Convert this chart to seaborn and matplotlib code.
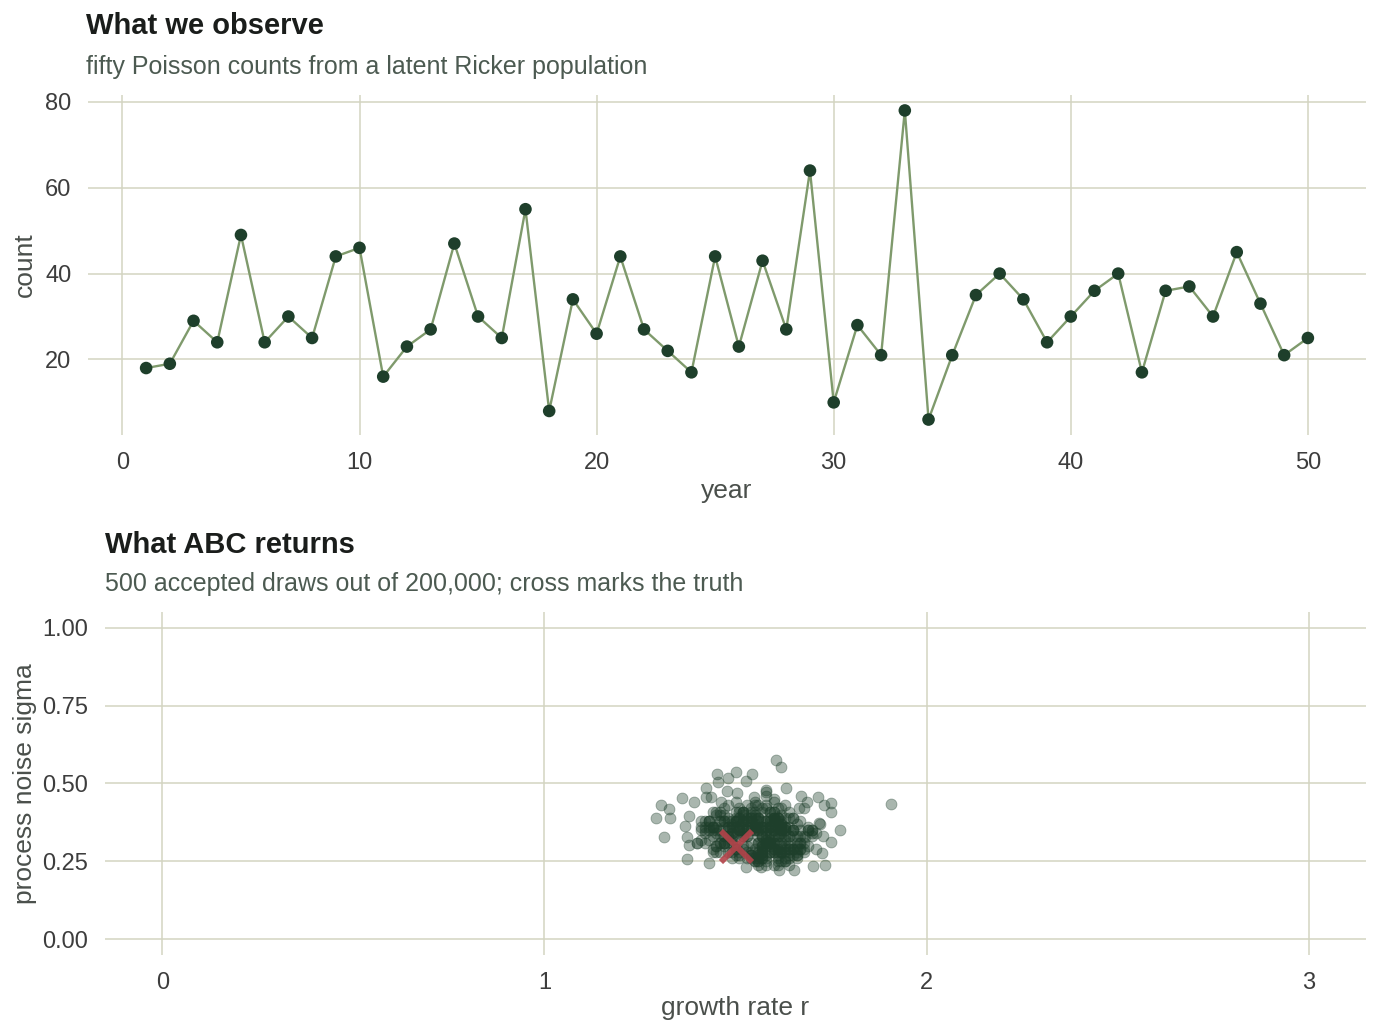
import matplotlib
matplotlib.use("Agg")
import matplotlib.pyplot as plt
import seaborn as sns
import pandas as pd

# observed counts, years 1..50
years = list(range(1, 51))
counts = [18, 19, 29, 24, 49, 24, 30, 25, 44, 46,
          16, 23, 27, 47, 30, 25, 55, 8, 34, 26,
          44, 27, 22, 17, 44, 23, 43, 27, 64, 10,
          28, 21, 78, 6, 21, 35, 40, 34, 24, 30,
          36, 40, 17, 36, 37, 30, 45, 33, 21, 25]

# accepted ABC draws
r_draws = [
    1.52, 1.61, 1.47, 1.58, 1.66, 1.43, 1.55, 1.63, 1.49, 1.57,
    1.60, 1.45, 1.53, 1.68, 1.51, 1.59, 1.41, 1.64, 1.56, 1.48,
    1.54, 1.62, 1.50, 1.70, 1.46, 1.58, 1.65, 1.53, 1.44, 1.60,
    1.57, 1.49, 1.63, 1.55, 1.42, 1.67, 1.52, 1.59, 1.61, 1.46,
    1.50, 1.64, 1.56, 1.40, 1.58, 1.62, 1.47, 1.69, 1.54, 1.51,
    1.63, 1.55, 1.44, 1.60, 1.57, 1.49, 1.66, 1.52, 1.59, 1.72,
    1.45, 1.58, 1.61, 1.53, 1.48, 1.65, 1.56, 1.43, 1.62, 1.50,
    1.59, 1.67, 1.52, 1.46, 1.60, 1.54, 1.71, 1.57, 1.49, 1.63,
    1.55, 1.42, 1.64, 1.58, 1.51, 1.61, 1.47, 1.56, 1.68, 1.53,
    1.62, 1.50, 1.57, 1.45, 1.66, 1.59, 1.54, 1.41, 1.60, 1.48,
    1.56, 1.63, 1.49, 1.61, 1.55, 1.44, 1.69, 1.52, 1.58, 1.65,
    1.47, 1.60, 1.53, 1.67, 1.57, 1.50, 1.62, 1.46, 1.59, 1.55,
    1.64, 1.51, 1.58, 1.43, 1.61, 1.56, 1.48, 1.70, 1.54, 1.60,
    1.52, 1.66, 1.45, 1.59, 1.62, 1.49, 1.57, 1.63, 1.40, 1.55,
    1.58, 1.47, 1.61, 1.54, 1.68, 1.51, 1.60, 1.44, 1.65, 1.57,
    1.50, 1.62, 1.56, 1.48, 1.59, 1.73, 1.53, 1.61, 1.46, 1.64,
    1.57, 1.44, 1.60, 1.66, 1.52, 1.58, 1.49, 1.63, 1.55, 1.42,
    1.61, 1.54, 1.47, 1.59, 1.64, 1.50, 1.67, 1.56, 1.62, 1.45,
    1.53, 1.60, 1.58, 1.41, 1.55, 1.63, 1.51, 1.57, 1.69, 1.48,
    1.65, 1.49, 1.56, 1.62, 1.46, 1.59, 1.54, 1.60, 1.52, 1.66,
    1.43, 1.58, 1.63, 1.50, 1.57, 1.61, 1.47, 1.55, 1.64, 1.59,
    1.54, 1.67, 1.48, 1.60, 1.52, 1.45, 1.62, 1.58, 1.56, 1.70,
    1.60, 1.51, 1.65, 1.57, 1.44, 1.59, 1.53, 1.62, 1.49, 1.56,
    1.47, 1.61, 1.55, 1.68, 1.58, 1.52, 1.64, 1.42, 1.57, 1.63,
    1.59, 1.50, 1.56, 1.46, 1.62, 1.66, 1.54, 1.60, 1.51, 1.58,
    1.64, 1.48, 1.61, 1.55, 1.57, 1.43, 1.63, 1.52, 1.71, 1.59,
    1.56, 1.62, 1.45, 1.58, 1.50, 1.65, 1.57, 1.61, 1.53, 1.47,
    1.60, 1.55, 1.67, 1.49, 1.63, 1.54, 1.59, 1.44, 1.62, 1.57,
    1.52, 1.64, 1.58, 1.61, 1.46, 1.56, 1.69, 1.51, 1.60, 1.55,
    1.63, 1.48, 1.57, 1.53, 1.66, 1.59, 1.42, 1.62, 1.56, 1.50,
    1.58, 1.61, 1.54, 1.45, 1.60, 1.64, 1.52, 1.57, 1.67, 1.49,
    1.55, 1.62, 1.47, 1.59, 1.53, 1.60, 1.65, 1.43, 1.58, 1.56,
    1.61, 1.51, 1.64, 1.57, 1.48, 1.62, 1.55, 1.68, 1.52, 1.59,
    1.46, 1.58, 1.60, 1.54, 1.63, 1.50, 1.57, 1.61, 1.44, 1.66,
    1.57, 1.63, 1.52, 1.60, 1.56, 1.47, 1.59, 1.65, 1.53, 1.62,
    1.49, 1.56, 1.61, 1.41, 1.58, 1.64, 1.54, 1.60, 1.70, 1.51,
    # outer points
    1.605, 1.618, 1.452, 1.500, 1.481, 1.542, 1.528, 1.455, 1.424, 1.477,
    1.631, 1.581, 1.359, 1.305, 1.326, 1.292, 1.328, 1.313, 1.374, 1.431,
    1.908, 1.773, 1.749, 1.751, 1.716, 1.672, 1.731, 1.751, 1.735, 1.702,
    1.653, 1.614, 1.568, 1.527, 1.727, 1.718, 1.683, 1.377, 1.368, 1.372,
    1.379, 1.392, 1.422, 1.435, 1.461, 1.505, 1.548, 1.579, 1.688, 1.666,
]
sigma_draws = [
    0.34, 0.29, 0.40, 0.27, 0.37, 0.32, 0.44, 0.25, 0.36, 0.30,
    0.39, 0.28, 0.33, 0.42, 0.26, 0.36, 0.38, 0.31, 0.43, 0.35,
    0.27, 0.37, 0.30, 0.35, 0.41, 0.24, 0.33, 0.39, 0.29, 0.45,
    0.36, 0.31, 0.26, 0.43, 0.34, 0.29, 0.38, 0.32, 0.24, 0.40,
    0.29, 0.41, 0.36, 0.31, 0.25, 0.35, 0.42, 0.30, 0.38, 0.27,
    0.33, 0.25, 0.36, 0.39, 0.29, 0.34, 0.27, 0.41, 0.31, 0.37,
    0.30, 0.43, 0.33, 0.26, 0.36, 0.39, 0.28, 0.35, 0.25, 0.38,
    0.41, 0.31, 0.36, 0.28, 0.44, 0.27, 0.34, 0.38, 0.32, 0.30,
    0.25, 0.35, 0.39, 0.31, 0.42, 0.29, 0.36, 0.24, 0.33, 0.38,
    0.34, 0.27, 0.30, 0.40, 0.33, 0.41, 0.26, 0.36, 0.31, 0.43,
    0.38, 0.32, 0.28, 0.25, 0.36, 0.41, 0.35, 0.29, 0.46, 0.27,
    0.31, 0.39, 0.36, 0.33, 0.27, 0.44, 0.30, 0.38, 0.34, 0.26,
    0.28, 0.36, 0.31, 0.38, 0.42, 0.25, 0.33, 0.35, 0.40, 0.29,
    0.41, 0.30, 0.34, 0.28, 0.37, 0.26, 0.36, 0.43, 0.31, 0.39,
    0.32, 0.38, 0.27, 0.41, 0.31, 0.35, 0.24, 0.36, 0.29, 0.42,
    0.36, 0.28, 0.39, 0.31, 0.34, 0.33, 0.43, 0.26, 0.38, 0.30,
    0.26, 0.35, 0.38, 0.29, 0.33, 0.42, 0.36, 0.28, 0.40, 0.31,
    0.39, 0.27, 0.33, 0.36, 0.26, 0.38, 0.31, 0.35, 0.28, 0.41,
    0.30, 0.41, 0.34, 0.32, 0.37, 0.25, 0.39, 0.31, 0.36, 0.28,
    0.35, 0.37, 0.28, 0.40, 0.31, 0.30, 0.42, 0.33, 0.38, 0.26,
    0.38, 0.31, 0.35, 0.41, 0.27, 0.36, 0.33, 0.29, 0.24, 0.39,
    0.28, 0.38, 0.33, 0.35, 0.40, 0.30, 0.36, 0.26, 0.31, 0.34,
    0.41, 0.35, 0.29, 0.36, 0.33, 0.28, 0.38, 0.42, 0.34, 0.25,
    0.31, 0.39, 0.36, 0.28, 0.35, 0.41, 0.33, 0.38, 0.30, 0.36,
    0.36, 0.29, 0.39, 0.33, 0.38, 0.27, 0.31, 0.35, 0.41, 0.33,
    0.27, 0.36, 0.31, 0.35, 0.28, 0.38, 0.39, 0.33, 0.29, 0.36,
    0.33, 0.28, 0.36, 0.31, 0.39, 0.35, 0.26, 0.38, 0.33, 0.30,
    0.38, 0.35, 0.29, 0.33, 0.36, 0.39, 0.31, 0.28, 0.35, 0.41,
    0.30, 0.33, 0.38, 0.36, 0.31, 0.26, 0.35, 0.39, 0.28, 0.36,
    0.35, 0.39, 0.33, 0.38, 0.28, 0.31, 0.36, 0.35, 0.27, 0.38,
    0.31, 0.36, 0.39, 0.35, 0.33, 0.29, 0.38, 0.28, 0.35, 0.33,
    0.36, 0.33, 0.31, 0.38, 0.35, 0.28, 0.39, 0.36, 0.30, 0.35,
    0.28, 0.35, 0.36, 0.33, 0.38, 0.31, 0.41, 0.29, 0.35, 0.38,
    0.35, 0.38, 0.31, 0.36, 0.29, 0.33, 0.28, 0.39, 0.36, 0.31,
    0.33, 0.36, 0.35, 0.29, 0.39, 0.38, 0.31, 0.35, 0.28, 0.36,
    0.38, 0.31, 0.33, 0.35, 0.36, 0.29, 0.35, 0.38, 0.33, 0.28,
    # outer points
    0.576, 0.552, 0.530, 0.536, 0.519, 0.531, 0.509, 0.506, 0.485, 0.477,
    0.485, 0.474, 0.454, 0.431, 0.418, 0.388, 0.388, 0.329, 0.259, 0.245,
    0.434, 0.350, 0.436, 0.409, 0.456, 0.460, 0.431, 0.313, 0.238, 0.235,
    0.222, 0.222, 0.232, 0.232, 0.276, 0.372, 0.329, 0.395, 0.363, 0.329,
    0.302, 0.441, 0.456, 0.458, 0.441, 0.468, 0.458, 0.479, 0.441, 0.420,
]
true_r = [1.5]
true_sigma = [0.3]

obs = pd.DataFrame({"year": years, "count": counts})
draws = pd.DataFrame({"r": r_draws, "sigma": sigma_draws})
truth = pd.DataFrame({"r": true_r, "sigma": true_sigma})

dark = "#1e3f2b"
sage = "#7f9a6c"
grid_col = "#d3d4c1"
tick_col = "#3d3d3d"
lab_col = "#4a4f4b"
sub_col = "#4c5a51"

sns.set_theme(style="white")
plt.rcParams["font.family"] = ["Liberation Sans", "DejaVu Sans"]

fig = plt.figure(figsize=(13.82, 10.36), dpi=100)
ax1 = fig.add_axes([0.0637, 0.5801, 0.9247, 0.3282])
ax2 = fig.add_axes([0.0760, 0.0782, 0.9124, 0.3311])


def style(ax):
    for sp in ax.spines.values():
        sp.set_visible(False)
    ax.grid(True, color=grid_col, linewidth=1.1)
    ax.set_axisbelow(True)
    ax.tick_params(length=0, labelsize=17, labelcolor=tick_col)
    ax.tick_params(axis="x", pad=12)
    ax.tick_params(axis="y", pad=12)


# top: observed series
sns.lineplot(data=obs, x="year", y="count", ax=ax1, color=sage, linewidth=1.7)
sns.scatterplot(data=obs, x="year", y="count", ax=ax1, color=dark, s=82,
                edgecolor="none", zorder=3)
ax1.set_xlim(-1.45, 52.45)
ax1.set_ylim(2.4, 81.6)
ax1.set_xticks([0, 10, 20, 30, 40, 50])
ax1.set_yticks([20, 40, 60, 80])
ax1.set_xlabel("year", fontsize=19, color=lab_col, labelpad=4)
ax1.set_ylabel("count", fontsize=19, color=lab_col, labelpad=6)
style(ax1)

# bottom: ABC posterior cloud
sns.scatterplot(data=draws, x="r", y="sigma", ax=ax2, color=dark, alpha=0.38,
                s=62, edgecolor=dark, linewidth=0.6)
sns.scatterplot(data=truth, x="r", y="sigma", ax=ax2, marker="x",
                color="#b3434a", s=500, linewidth=4.2, alpha=0.9, zorder=4)
ax2.set_xlim(-0.15, 3.15)
ax2.set_ylim(-0.05, 1.05)
ax2.set_xticks([0, 1, 2, 3])
ax2.set_yticks([0, 0.25, 0.5, 0.75, 1.0])
ax2.set_yticklabels(["0.00", "0.25", "0.50", "0.75", "1.00"])
ax2.set_xlabel("growth rate r", fontsize=19, color=lab_col, labelpad=2)
ax2.set_ylabel("process noise sigma", fontsize=19, color=lab_col, labelpad=4)
style(ax2)

# titles
fig.text(86 / 1382, 1 - 34 / 1036, "What we observe", fontsize=21,
         fontweight="bold", color="#1a1d1b", va="baseline")
fig.text(86 / 1382, 1 - 74 / 1036, "fifty Poisson counts from a latent Ricker population",
         fontsize=18, color=sub_col, va="baseline")
fig.text(105 / 1382, 1 - 553 / 1036, "What ABC returns", fontsize=21,
         fontweight="bold", color="#1a1d1b", va="baseline")
fig.text(105 / 1382, 1 - 591 / 1036, "500 accepted draws out of 200,000; cross marks the truth",
         fontsize=18, color=sub_col, va="baseline")

fig.savefig("out.png", dpi=100, facecolor="white")
